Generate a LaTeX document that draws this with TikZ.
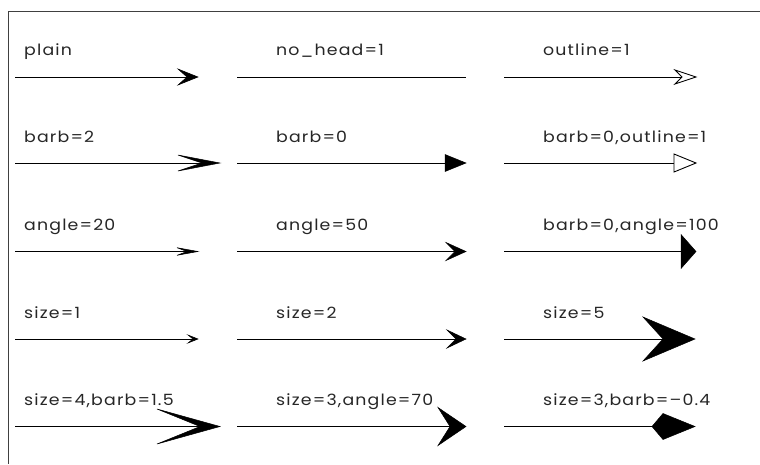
\documentclass[tikz,border=0pt]{standalone}
\usepackage{fontspec}
\setmainfont{Poppins}[FakeStretch=1.12,LetterSpace=7.5]
\usetikzlibrary{calc}
\begin{document}
\begin{tikzpicture}[x=1pt,y=-1pt,
  lbl/.style={anchor=base west,inner sep=0pt,text=black!85,font=\fontsize{15.5}{18}\selectfont},
  shaft/.style={line width=1pt},
  headfill/.style={fill=black,draw=black,line width=0.5pt,line join=miter},
  headopen/.style={fill=white,draw=black,line width=0.9pt,line join=miter}]
\useasboundingbox (0,0) rectangle (760,464);
\coordinate (fa) at (8,11.5);
\coordinate (fb) at (760,11.5);
\coordinate (fc) at (8,464);
\draw[line width=1pt,black!75] (fb) -- (fa) -- (fc);
% ---------- row 1
\node[lbl] (l11) at (24,55) {plain};
\node[lbl] (l12) at (276,55) {no\_head=1};
\node[lbl] (l13) at (543,55) {outline=1};
\coordinate (s11) at (15,77); \coordinate (t11) at (198,77);
\draw[shaft] (s11) -- ($(t11)+(-10,0)$);
\fill[headfill] (t11) -- ++(-20,-8) -- ++(9,8) -- ++(-9,8) -- cycle;
\coordinate (s12) at (237,77); \coordinate (t12) at (466,77);
\draw[shaft] (s12) -- (t12);
\coordinate (s13) at (504,77); \coordinate (t13) at (696,77);
\draw[shaft] (s13) -- ($(t13)+(-14,0)$);
\draw[headopen] (t13) -- ++(-21,-7) -- ++(7,7) -- ++(-7,7) -- cycle;
% ---------- row 2
\node[lbl] (l21) at (24,142) {barb=2};
\node[lbl] (l22) at (276,142) {barb=0};
\node[lbl] (l23) at (543,142) {barb=0,outline=1};
\coordinate (s21) at (15,163); \coordinate (t21) at (220,163);
\draw[shaft] (s21) -- ($(t21)+(-16,0)$);
\fill[headfill] (t21) -- ++(-42,-8) -- ++(24,8) -- ++(-24,8) -- cycle;
\coordinate (s22) at (237,163); \coordinate (t22) at (466,163);
\draw[shaft] (s22) -- ($(t22)+(-21,0)$);
\fill[headfill] (t22) -- ++(-21,-8.5) -- ++(0,17) -- cycle;
\coordinate (s23) at (504,163); \coordinate (t23) at (696,163);
\draw[shaft] (s23) -- ($(t23)+(-22,0)$);
\draw[headopen] (t23) -- ++(-22,-9) -- ++(0,18) -- cycle;
% ---------- row 3
\node[lbl] (l31) at (24,230) {angle=20};
\node[lbl] (l32) at (276,230) {angle=50};
\node[lbl] (l33) at (543,230) {barb=0,angle=100};
\coordinate (s31) at (15,251.5); \coordinate (t31) at (198,251.5);
\draw[shaft] (s31) -- ($(t31)+(-10,0)$);
\fill[headfill] (t31) -- ++(-21,-3.8) -- ++(10,3.8) -- ++(-10,3.8) -- cycle;
\coordinate (s32) at (237,251.5); \coordinate (t32) at (466,251.5);
\draw[shaft] (s32) -- ($(t32)+(-10,0)$);
\fill[headfill] (t32) -- ++(-20,-9) -- ++(9,9) -- ++(-9,9) -- cycle;
\coordinate (s33) at (504,251.5); \coordinate (t33) at (696,251.5);
\draw[shaft] (s33) -- ($(t33)+(-15,0)$);
\fill[headfill] (t33) -- ++(-15,-17) -- ++(0,34) -- cycle;
% ---------- row 4
\node[lbl] (l41) at (24,318) {size=1};
\node[lbl] (l42) at (276,318) {size=2};
\node[lbl] (l43) at (543,318) {size=5};
\coordinate (s41) at (15,339); \coordinate (t41) at (198,339);
\draw[shaft] (s41) -- ($(t41)+(-5,0)$);
\fill[headfill] (t41) -- ++(-10,-4) -- ++(5,4) -- ++(-5,4) -- cycle;
\coordinate (s42) at (237,339); \coordinate (t42) at (466,339);
\draw[shaft] (s42) -- ($(t42)+(-10,0)$);
\fill[headfill] (t42) -- ++(-19,-9) -- ++(9,9) -- ++(-9,9) -- cycle;
\coordinate (s43) at (504,339); \coordinate (t43) at (695,339);
\draw[shaft] (s43) -- ($(t43)+(-32,0)$);
\fill[headfill] (t43) -- ++(-52,-22) -- ++(20,22) -- ++(-20,22) -- cycle;
% ---------- row 5
\node[lbl] (l51) at (24,405) {size=4,barb=1.5};
\node[lbl] (l52) at (276,405) {size=3,angle=70};
\node[lbl] (l53) at (543,405) {size=3,barb=–0.4};
\coordinate (s51) at (15,426.5); \coordinate (t51) at (220,426.5);
\draw[shaft] (s51) -- ($(t51)+(-20,0)$);
\fill[headfill] (t51) -- ++(-63,-17.5) -- ++(43,17.5) -- ++(-43,17.5) -- cycle;
\coordinate (s52) at (237,426.5); \coordinate (t52) at (466,426.5);
\draw[shaft] (s52) -- ($(t52)+(-16,0)$);
\fill[headfill] (t52) -- ++(-28,-19) -- ++(12,19) -- ++(-12,19) -- cycle;
\coordinate (s53) at (504,426.5); \coordinate (t53) at (695,426.5);
\draw[shaft] (s53) -- ($(t53)+(-43,0)$);
\fill[headfill] (t53) -- ++(-32,-13) -- ++(-11,13) -- ++(11,13) -- cycle;
\end{tikzpicture}
\end{document}
